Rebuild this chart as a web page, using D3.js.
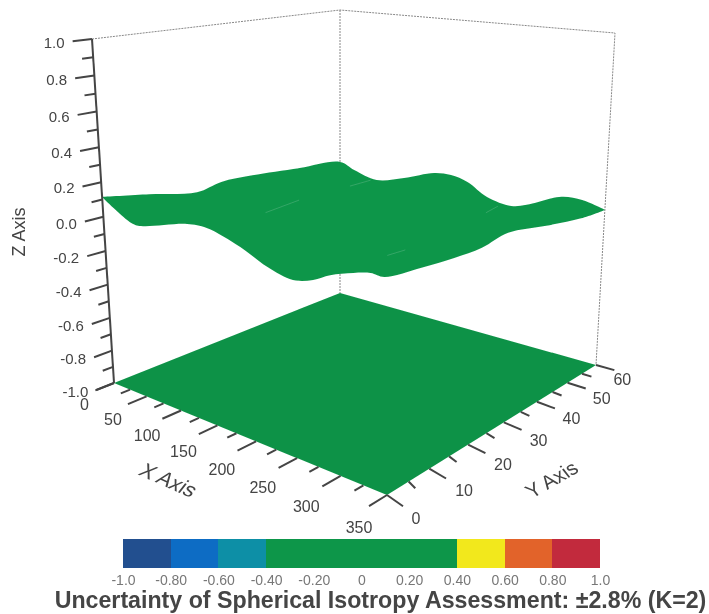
<!DOCTYPE html>
<html>
<head>
<meta charset="utf-8">
<title>Spherical Isotropy Uncertainty</title>
<script src="https://d3js.org/d3.v7.min.js"></script>
<style>
  body { margin: 0; background: #fff; }
  text { font-family: "Liberation Sans", Arial, sans-serif; }
  .tick-label { font-size: 15px; fill: #444; }
  .grid { fill: none; stroke: #888; stroke-width: 1; stroke-dasharray: 2 1; }
  .tick-mark { stroke: #444; stroke-width: 2; }
</style>
</head>
<body>
<svg width="709" height="614"></svg>
<script>
// ticks
var xTicks = [0, 50, 100, 150, 200, 250, 300, 350];
var yTicks = [0, 10, 20, 30, 40, 50, 60];
var zTicks = [-1, -0.8, -0.6, -0.4, -0.2, 0, 0.2, 0.4, 0.6, 0.8, 1];
var zLabels = ["-1.0", "-0.8", "-0.6", "-0.4", "-0.2", "0.0", "0.2", "0.4", "0.6", "0.8", "1.0"];
var colorTicks = [-1, -0.8, -0.6, -0.4, -0.2, 0, 0.2, 0.4, 0.6, 0.8, 1];
var colorLabels = ["-1.0", "-0.80", "-0.60", "-0.40", "-0.20", "0", "0.20", "0.40", "0.60", "0.80", "1.0"];
var colorBands = ["#21508f", "#0c6cc4", "#0f8fa6", "#0d964a", "#0d964a", "#0d964a", "#0d964a", "#f2e81e", "#e2632a", "#c22a3c"];

// surface edges
var edgeX0Y = [0, 10, 21, 27, 35, 48, 60];                   // x = 0
var edgeX0Z = [0.115, 0.064, 0.004, 0.03, 0.022, -0.01, -0.04];
var edgeY60X = [22, 56, 96, 138, 161, 183, 209, 240, 259, 300, 324, 350];   // y = 60
var edgeY60Z = [-0.078, -0.118, -0.068, 0.003, 0.01, -0.016, -0.089, -0.117, -0.091, -0.001, 0.002, -0.032];
var edgeX350Y = [52, 41, 30, 23, 16, 8, 0];                  // x = 350, going back to the front
var edgeX350Z = [-0.025, 0.013, 0.056, 0.03, 0.033, 0.048, 0.072];
var edgeY0X = [336, 318, 293, 274, 251, 221, 189, 147, 121, 56, 42];        // y = 0, front to left
var edgeY0Z = [0.074, 0.053, 0.012, -0.035, -0.063, -0.032, 0.034, 0.09, 0.084, 0.005, 0.008];

// pale scratches on the surface
var streakX0 = [88, 273, 255, 95];
var streakX1 = [80, 275, 250, 95];
var streakY0 = [23, 17, 48, 44];
var streakY1 = [33, 21, 53, 50];
var streakZ = [-0.05, -0.05, -0.06, -0.02];

var svg = d3.select("svg");
var defs = svg.append("defs");
defs.append("filter").attr("id", "soft").append("feGaussianBlur").attr("stdDeviation", 0.5);
var g = svg.append("g").attr("filter", "url(#soft)");

var x = d3.scaleLinear().domain([0, 350]).range([0, 1]),
    y = d3.scaleLinear().domain([0, 60]).range([0, 1]),
    z = d3.scaleLinear().domain([-1, 1]).range([0, 1]);

var color = d3.scaleThreshold().domain(colorTicks.slice(1, -1)).range(colorBands);

// unit square -> quad, corners in the order (0,0) (1,0) (1,1) (0,1)
function quad(p) {
  var dx1 = p[1][0] - p[2][0], dx2 = p[3][0] - p[2][0], sx = p[0][0] - p[1][0] + p[2][0] - p[3][0],
      dy1 = p[1][1] - p[2][1], dy2 = p[3][1] - p[2][1], sy = p[0][1] - p[1][1] + p[2][1] - p[3][1],
      den = dx1 * dy2 - dx2 * dy1,
      a = (sx * dy2 - dx2 * sy) / den,
      b = (dx1 * sy - sx * dy1) / den;
  return function(u, v) {
    var w = 1 + a * u + b * v;
    return [(p[0][0] + (p[1][0] * (1 + a) - p[0][0]) * u + (p[3][0] * (1 + b) - p[0][0]) * v) / w,
            (p[0][1] + (p[1][1] * (1 + a) - p[0][1]) * u + (p[3][1] * (1 + b) - p[0][1]) * v) / w];
  };
}

var floorQuad = quad([[114, 383], [387, 495], [596, 365], [340, 293]]),
    ceilQuad = quad([[92, 39], [382, 75], [615, 33], [340, 10]]);

function project(px, py, pz) {
  var u = x(px), v = y(py), t = z(pz), r = 1.07,
      f = t / (t + (1 - t) * r),
      a = floorQuad(u, v), b = ceilQuad(u, v);
  return [a[0] + (b[0] - a[0]) * f, a[1] + (b[1] - a[1]) * f];
}

var line = d3.line();
var smooth = d3.line().curve(d3.curveCatmullRom);

function segment(a, b, cls) {
  g.append("line").attr("class", cls)
    .attr("x1", a[0]).attr("y1", a[1]).attr("x2", b[0]).attr("y2", b[1]);
}

// back walls
g.append("path").attr("class", "grid")
  .attr("d", line([project(0, 0, 1), project(0, 60, 1), project(350, 60, 1), project(350, 60, -1)]));
g.append("path").attr("class", "grid")
  .attr("d", line([project(0, 60, 1), project(0, 60, -1)]));

// floor
g.append("path")
  .attr("d", line([project(0, 0, -1), project(350, 0, -1), project(350, 60, -1), project(0, 60, -1)]) + "Z")
  .attr("fill", "#0c9247");

// surface outline, upper side left to right then lower side back again
var upper = [], lower = [];
edgeX0Y.forEach(function(d, i) { upper.push(project(0, d, edgeX0Z[i])); });
edgeY60X.forEach(function(d, i) { upper.push(project(d, 60, edgeY60Z[i])); });
lower.push(project(350, 60, edgeY60Z[edgeY60Z.length - 1]));
edgeX350Y.forEach(function(d, i) { lower.push(project(350, d, edgeX350Z[i])); });
edgeY0X.forEach(function(d, i) { lower.push(project(d, 0, edgeY0Z[i])); });
lower.push(project(0, 0, edgeX0Z[0]));

g.append("path")
  .attr("d", smooth(upper) + "L" + smooth(lower).slice(1) + "Z")
  .attr("fill", color(0));

streakX0.forEach(function(d, i) {
  var a = project(d, streakY0[i], streakZ[i]), b = project(streakX1[i], streakY1[i], streakZ[i]);
  g.append("line")
    .attr("x1", a[0]).attr("y1", a[1]).attr("x2", b[0]).attr("y2", b[1])
    .attr("stroke", "#46ad72").attr("stroke-width", 1).attr("opacity", 0.7);
});

// z axis
g.append("path").attr("d", line([project(0, 0, -1), project(0, 0, 1)]))
  .attr("stroke", "#444").attr("stroke-width", 2).attr("fill", "none");

zTicks.forEach(function(d, i) {
  var end = project(0, -3.8, d);
  segment(project(0, 0, d), end, "tick-mark");
  g.append("text").attr("class", "tick-label")
    .attr("x", end[0] - 8).attr("y", end[1] + 7)
    .attr("text-anchor", "end")
    .text(zLabels[i]);
  if (i < zTicks.length - 1) {
    segment(project(0, 0, d + 0.1), project(0, -2.2, d + 0.1), "tick-mark");
  }
});

// x axis
var xLabelDx = d3.scaleLinear().domain([0, 50, 300, 350]).range([-11, -15, -16, -10]);
var xLabelDy = d3.scaleLinear().domain([0, 350]).range([14, 21]);
xTicks.forEach(function(d, i) {
  var end = project(d, -4, -1);
  segment(project(d, 0, -1), end, "tick-mark");
  g.append("text").attr("class", "tick-label").style("font-size", "16px")
    .attr("x", end[0] + xLabelDx(d)).attr("y", end[1] + xLabelDy(d) + 6)
    .attr("text-anchor", "middle")
    .text(d);
  if (i < xTicks.length - 1) {
    segment(project(d + 25, 0, -1), project(d + 25, -2, -1), "tick-mark");
  }
});

// y axis
function yTickEnd(d, k) {
  return project(350 + k, d - (1 - d / 60), -1);
}
var yLabelDx = d3.scaleLinear().domain([0, 10, 50, 60]).range([13, 18, 16, 8]);
var yLabelDy = d3.scaleLinear().domain([0, 60]).range([18, 15]);
yTicks.forEach(function(d, i) {
  var end = yTickEnd(d, 21);
  segment(project(350, d, -1), end, "tick-mark");
  g.append("text").attr("class", "tick-label").style("font-size", "16px")
    .attr("x", end[0] + yLabelDx(d)).attr("y", end[1] + yLabelDy(d))
    .attr("text-anchor", "middle")
    .text(d);
  if (i < yTicks.length - 1) {
    segment(project(350, d + 5, -1), yTickEnd(d + 5, 11), "tick-mark");
  }
});

// axis titles
g.append("text").attr("transform", "translate(25,232) rotate(-90)")
  .attr("text-anchor", "middle").attr("fill", "#444").style("font-size", "18px").text("Z Axis");
g.append("text").attr("transform", "translate(164,486) rotate(24) skewX(-14)")
  .attr("text-anchor", "middle").attr("fill", "#444").style("font-size", "21px").text("X Axis");
g.append("text").attr("transform", "translate(556,485) rotate(-30) skewX(8)")
  .attr("text-anchor", "middle").attr("fill", "#444").style("font-size", "20px").text("Y Axis");

// colour bar
var barScale = d3.scaleLinear().domain([-1, 1]).range([123, 600]);
g.selectAll(".band").data(colorBands).enter().append("rect")
  .attr("class", "band")
  .attr("x", function(d, i) { return barScale(colorTicks[i]); })
  .attr("y", 539)
  .attr("width", function(d, i) { return barScale(colorTicks[i + 1]) - barScale(colorTicks[i]); })
  .attr("height", 29)
  .attr("fill", function(d) { return d; })
  .attr("shape-rendering", "crispEdges");

var barAxis = g.append("g").attr("transform", "translate(0,569)")
  .call(d3.axisBottom(barScale).tickValues(colorTicks).tickSize(0).tickPadding(6)
    .tickFormat(function(d, i) { return colorLabels[i]; }));
barAxis.select(".domain").remove();
barAxis.selectAll("text").attr("fill", "#777").style("font-size", "14px")
  .style("font-family", '"Liberation Sans", Arial, sans-serif');

g.append("text").attr("x", 380.5).attr("y", 608).attr("text-anchor", "middle")
  .attr("fill", "#444").style("font-size", "23.2px").style("font-weight", "bold")
  .text("Uncertainty of Spherical Isotropy Assessment: ±2.8% (K=2)");
</script>
</body>
</html>
